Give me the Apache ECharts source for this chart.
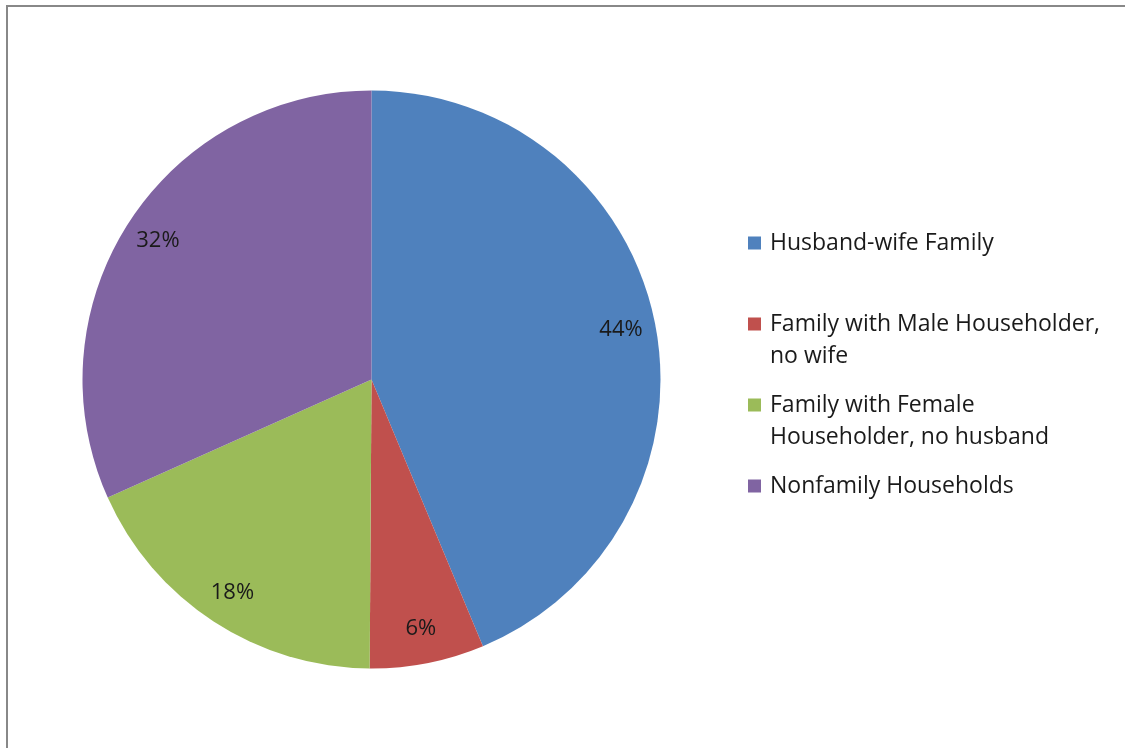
<!DOCTYPE html>
<html>
<head>
<meta charset="utf-8">
<script src="https://cdn.jsdelivr.net/npm/echarts@6/dist/echarts.min.js"></script>
<style>
  html, body { margin: 0; padding: 0; background: #fff; }
  #chart { width: 1125px; height: 748px; }
</style>
</head>
<body>
<div id="chart"></div>
<script>
// household types and their shares (%)
const categories = [
  'Husband-wife Family',
  'Family with Male Householder, no wife',
  'Family with Female Householder, no husband',
  'Nonfamily Households'
];
const shares = [43.7, 6.4, 18.2, 31.7];
const colors = ['#4F81BD', '#C0504D', '#9BBB59', '#8064A2'];
// legend text as it is wrapped in the picture (every item kept at two lines)
const legendLabels = [
  'Husband-wife Family\n ',
  'Family with Male Householder,\nno wife',
  'Family with Female\nHouseholder, no husband',
  'Nonfamily Households\n '
];

const FONT = '"Open Sans"';
const pieData = categories.map((name, i) => ({
  name: name,
  value: shares[i],
  itemStyle: { color: colors[i] }
}));

const chart = echarts.init(document.getElementById('chart'));
chart.setOption({
  animation: false,
  graphic: [{
    type: 'rect',
    shape: { x: 7, y: 6, width: 1300, height: 900 },
    style: { fill: 'none', stroke: '#888888', lineWidth: 2 },
    silent: true
  }],
  legend: {
    orient: 'vertical',
    left: 748,
    top: 227,
    padding: 0,
    itemGap: 17,
    itemWidth: 17,
    itemHeight: 45,
    // square at top-left of a taller box so it lines up with the first text line
    icon: 'path://M0,0L13,0L13,13L0,13Z M17,45L16.99,45',
    data: categories,
    formatter: name => legendLabels[categories.indexOf(name)],
    textStyle: { fontFamily: FONT, fontSize: 23, color: '#1a1a1a', lineHeight: 32 }
  },
  series: [
    {
      type: 'pie',
      center: [371.5, 379.5],
      radius: [0, 289],
      startAngle: 90,
      clockwise: true,
      silent: true,
      label: { show: false },
      labelLine: { show: false },
      data: pieData
    },
    {
      // transparent ring only used to place the percentage labels
      type: 'pie',
      center: [371.5, 379.5],
      radius: [214, 289],
      startAngle: 90,
      clockwise: true,
      silent: true,
      itemStyle: { color: 'rgba(0,0,0,0)' },
      label: {
        show: true,
        position: 'inside',
        formatter: p => Math.round(p.value) + '%',
        fontFamily: FONT,
        fontSize: 22,
        color: '#1a1a1a'
      },
      labelLine: { show: false },
      data: categories.map((name, i) => ({ name: name, value: shares[i] }))
    }
  ]
});
</script>
</body>
</html>
